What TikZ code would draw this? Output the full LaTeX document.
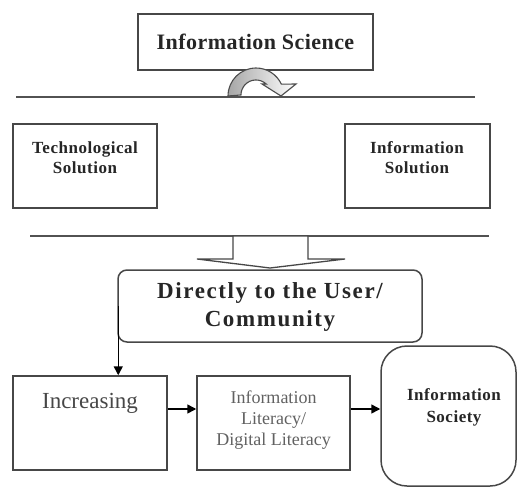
\documentclass[tikz,border=0pt]{standalone}
\usepackage{fontspec}
\setmainfont{Liberation Serif}
\usetikzlibrary{arrows.meta}

\begin{document}
\begin{tikzpicture}[x = 1pt, y = -1pt,
	box/.style = {draw = black!72, line width = 1.5pt, inner sep = 0pt},
	rule/.style = {draw = black!68, line width = 1.4pt},
	arr/.style = {draw = black, line width = 1.5pt, -{Triangle[length = 9pt, width = 9pt]}},
	big/.style = {font = \bfseries\fontsize{17}{20}\selectfont\addfontfeatures{LetterSpace = 3}, align = center, text = black!85},
	thin/.style = {font = \fontsize{18}{21}\selectfont, align = center, text = black!62}]
	\useasboundingbox (0, 0) rectangle (518, 489);

	\coordinate (l1a) at (16, 97);
	\coordinate (l1b) at (475, 97);
	\coordinate (l2a) at (30, 236);
	\coordinate (l2b) at (489, 236);
	\draw[rule] (l1a)--(l1b);
	\draw[rule] (l2a)--(l2b);

	\node[box, minimum width = 235pt, minimum height = 56pt, font = \bfseries\fontsize{22}{25}\selectfont\addfontfeatures{LetterSpace = 2}, text = black!85] (sci) at (255.5, 42) {Information Science};

	\draw[draw = black!70, line width = 1.1pt, left color = black!35, right color = white]
		(228, 96) arc[start angle = 180, end angle = 335, radius = 28]
		--(296, 84)--(281, 96)--(262, 84)--(266.2, 84)
		arc[start angle = 313, end angle = 180, radius = 15]--cycle;

	\node[box, minimum width = 144pt, minimum height = 84pt] (tech) at (85, 166) {};
	\node[big] (techtxt) at (85, 158) {Technological\\Solution};
	\node[box, minimum width = 145pt, minimum height = 84pt] (infosol) at (417.5, 166) {};
	\node[big] (infosoltxt) at (417, 158) {Information\\Solution};

	\draw[draw = black!72, line width = 1.3pt, fill = white]
		(233, 236)--(233, 259)--(197, 259)--(270, 268)--(345, 259)--(308, 259)--(308, 236)--cycle;

	\node[box, rounded corners = 9pt, minimum width = 304pt, minimum height = 72pt] (direct) at (270, 306) {};
	\node[font = \bfseries\fontsize{23}{28}\selectfont\addfontfeatures{LetterSpace = 7}, align = center, text = black!85] (directtxt) at (270, 307) {Directly to the User/\\Community};

	\node[box, minimum width = 154pt, minimum height = 94pt] (inc) at (90, 423) {};
	\node[font = \fontsize{23}{26}\selectfont, text = black!72] (inctxt) at (90, 403) {Increasing};
	\node[box, minimum width = 153pt, minimum height = 94pt] (lit) at (273.5, 423) {};
	\node[thin] (littxt) at (273.5, 420) {Information\\Literacy/\\Digital Literacy};
	\node[box, rounded corners = 26pt, minimum width = 135pt, minimum height = 140pt] (soc) at (448.5, 416) {};
	\node[big, font = \bfseries\fontsize{17}{22}\selectfont\addfontfeatures{LetterSpace = 3}] (soctxt) at (454, 407) {Information\\Society};

	\draw[arr] ([xshift = 1pt]direct.west)--([xshift = 1pt]direct.west |- inc.north);
	\draw[arr] ([yshift = 14pt]inc.east)--([yshift = 14pt]lit.west);
	\draw[arr] ([yshift = 14pt]lit.east)--([yshift = 14pt]lit.east -| soc.west);
\end{tikzpicture}
\end{document}
